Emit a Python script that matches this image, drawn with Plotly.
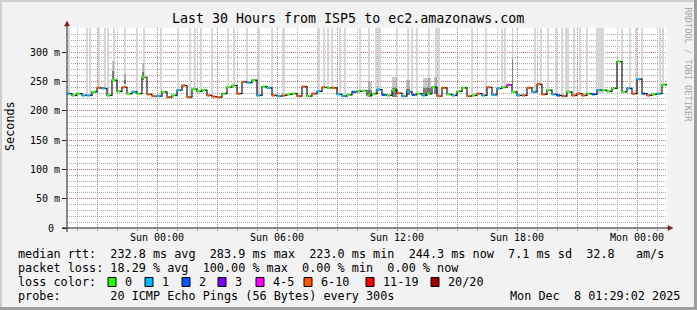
import plotly.graph_objects as go
from datetime import datetime, timedelta

# ---------------- data ----------------
title_text = "Last 30 Hours from ISP5 to ec2.amazonaws.com"
start = datetime(2025, 12, 6, 19, 30)
end = datetime(2025, 12, 8, 1, 30)
step_min = 15

# median rtt (ms) per 15-minute step
median_ms = [229, 226, 229, 226, 226, 232, 239, 238, 226, 252,
             233, 240, 229, 232, 229, 257, 228, 225, 225, 232,
             223, 226, 235, 243, 223, 237, 233, 235, 226, 224,
             223, 229, 240, 243, 229, 249, 248, 252, 226, 241,
             239, 226, 225, 226, 228, 229, 225, 241, 225, 229,
             233, 240, 239, 239, 228, 225, 227, 232, 233, 234,
             226, 229, 236, 227, 226, 235, 230, 225, 232, 227,
             229, 226, 229, 240, 225, 239, 228, 226, 233, 239,
             225, 226, 229, 226, 240, 227, 238, 240, 244, 232,
             226, 226, 239, 232, 245, 228, 235, 228, 226, 225,
             232, 226, 229, 226, 229, 228, 235, 235, 233, 238,
             283.9, 232, 238, 229, 254, 229, 226, 228, 229, 244.3]

# loss class index per step (index into loss_labels)
loss_class = [1, 0, 0, 1, 1, 0, 5, 1, 0, 0, 0, 5, 0, 1, 0, 0, 5, 5, 1, 0,
              5, 0, 1, 5, 5, 0, 0, 0, 5, 5, 5, 0, 0, 0, 5, 5, 1, 0, 1, 0,
              1, 5, 1, 5, 0, 0, 5, 5, 0, 5, 1, 5, 0, 5, 1, 1, 0, 2, 0, 0,
              0, 0, 1, 2, 0, 0, 5, 1, 1, 2, 0, 1, 0, 0, 5, 5, 0, 1, 0, 0,
              5, 0, 5, 1, 5, 1, 1, 0, 4, 0, 1, 5, 5, 1, 5, 5, 0, 1, 2, 5,
              0, 5, 5, 5, 0, 2, 1, 0, 0, 0, 0, 0, 1, 5, 1, 2, 5, 0, 1, 0]

loss_labels = ["0", "1", "2", "3", "4-5", "6-10", "11-19", "20/20"]
loss_colors = ["#26ff00", "#00b8ff", "#0059ff", "#7e00ff",
               "#ff00ff", "#ff5500", "#ff0000", "#a10000"]

# light grey full-height bars (minutes after start, duration in minutes)
gap_start_min = [3, 57, 66, 93, 111, 120, 138, 171, 207, 228, 279, 330, 366, 381,
                 399, 432, 480, 498, 537, 573, 612, 645, 753, 768, 780, 792, 816,
                 831, 876, 903, 924, 933, 987, 1020, 1032, 1047, 1083, 1104, 1113,
                 1212, 1254, 1302, 1311, 1401, 1419, 1440, 1464, 1482, 1494, 1500,
                 1518, 1536, 1557, 1587, 1662, 1686, 1704, 1722, 1776, 1785]
gap_len_min = [5, 5, 5, 5, 5, 5, 5, 5, 5, 5, 5, 5, 5, 5,
               5, 5, 5, 5, 5, 5, 5, 10, 5, 5, 5, 5, 5,
               5, 5, 5, 5, 10, 5, 5, 5, 5, 5, 5, 5,
               5, 5, 5, 5, 5, 5, 5, 5, 5, 5, 5,
               5, 5, 5, 25, 5, 5, 5, 5, 5, 5]

# smoke (ping spread) ranges
smoke_start_min = [136, 171, 226, 903, 975, 1017, 1068, 1101, 1335]
smoke_len_min = [6, 5, 6, 12, 15, 12, 24, 8, 3]
smoke_low_ms = [252, 246, 253, 223, 224, 226, 226, 228, 244]
smoke_high_ms = [285, 262, 281, 250, 257, 252, 256, 258, 341]

y_max_s = 0.341
y_tick_vals = [0, 0.05, 0.10, 0.15, 0.20, 0.25, 0.30]
y_tick_text = ["0\u00a0", "50 m", "100 m", "150 m", "200 m", "250 m", "300 m"]
x_label_names = {datetime(2025, 12, 7, 0): "Sun 00:00", datetime(2025, 12, 7, 6): "Sun 06:00",
                 datetime(2025, 12, 7, 12): "Sun 12:00", datetime(2025, 12, 7, 18): "Sun 18:00",
                 datetime(2025, 12, 8, 0): "Mon 00:00"}

legend_lines = [
    "median rtt:  232.8 ms avg  283.9 ms max  223.0 ms min  244.3 ms now  7.1 ms sd  32.8   am/s",
    "packet loss: 18.29 % avg  100.00 % max  0.00 % min  0.00 % now",
    "loss color:",
    "probe:       20 ICMP Echo Pings (56 Bytes) every 300s",
]
date_stamp = "Mon Dec  8 01:29:02 2025"

# ---------------- layout geometry (pixels) ----------------
W, H = 697, 310
L, R, T, B = 67, 30, 28, 82
PW, PH = W - L - R, H - T - B
MONO = "DejaVu Sans Mono"


def px(x):
    return (x - L) / PW


def py(y):
    return (H - B - y) / PH


fig = go.Figure()

# gaps (light grey bars)
times = [start + timedelta(minutes=step_min * i) for i in range(len(median_ms) + 1)]
gx, gb, gy, gw = [], [], [], []
for s, ln in zip(gap_start_min, gap_len_min):
    idx = min(s // step_min, len(median_ms) - 1)
    base = median_ms[idx] / 1000.0
    gx.append(start + timedelta(minutes=s + ln / 2))
    gb.append(base)
    gy.append(y_max_s - base)
    gw.append(ln * 60000)
fig.add_trace(go.Bar(x=gx, y=gy, base=gb, width=gw, marker=dict(color="#d6d6d6", line=dict(width=0)),
                     hoverinfo="skip"))

# smoke
sx, sb, sy, sw, cy = [], [], [], [], []
for s, ln, lo, hi in zip(smoke_start_min, smoke_len_min, smoke_low_ms, smoke_high_ms):
    sx.append(start + timedelta(minutes=s + ln / 2))
    sb.append(lo / 1000.0)
    sy.append((hi - lo) / 1000.0)
    cy.append((hi - lo) * 0.45 / 1000.0)
    sw.append(ln * 60000)
fig.add_trace(go.Bar(x=sx, y=sy, base=sb, width=sw, marker=dict(color="rgba(80,80,80,0.3)", line=dict(width=0)),
                     hoverinfo="skip"))
fig.add_trace(go.Bar(x=sx, y=cy, base=sb, width=sw, marker=dict(color="rgba(40,40,40,0.45)", line=dict(width=0)),
                     hoverinfo="skip"))

# median connector line
med_s = [v / 1000.0 for v in median_ms]
fig.add_trace(go.Scatter(x=times, y=med_s + [med_s[-1]], mode="lines",
                         line=dict(color="#1a1a1a", width=1.2, shape="hv"), hoverinfo="skip"))
# coloured median segments by loss (first part of each step)
seg = timedelta(minutes=step_min * 0.6)
for c, col in enumerate(loss_colors):
    xs, ys = [], []
    for i, (v, lc) in enumerate(zip(med_s, loss_class)):
        if lc == c:
            xs += [times[i], times[i] + seg, None]
            ys += [v, v, None]
    if xs:
        fig.add_trace(go.Scatter(x=xs, y=ys, mode="lines", line=dict(color=col, width=2.4),
                                 hoverinfo="skip"))

major_grid = "rgba(222,79,79,0.6)"
minor_grid = "rgba(143,143,143,0.75)"

x_major = []
t = datetime(2025, 12, 6, 21)
while t <= end:
    x_major.append(t)
    t += timedelta(hours=3)
x_minor = []
t = datetime(2025, 12, 6, 20)
while t <= end:
    x_minor.append(t)
    t += timedelta(hours=1)
x_text = [x_label_names.get(v, "") for v in x_major]
y_minor = [i / 100.0 for i in range(0, 35)]

fig.update_layout(
    width=W, height=H,
    margin=dict(l=L, r=R, t=T, b=B, pad=0),
    paper_bgcolor="#f2f2f2", plot_bgcolor="#ffffff",
    showlegend=False, barmode="overlay", bargap=0,
    xaxis=dict(range=[start, end], type="date", tickmode="array", tickvals=x_major, ticktext=x_text,
               showgrid=True, gridcolor=major_grid, griddash="1px,1px", gridwidth=1,
               ticks="outside", ticklen=2, tickcolor=major_grid, ticklabelstandoff=-2,
               tickfont=dict(family=MONO, size=10, color="#000000"),
               minor=dict(tickmode="array", tickvals=x_minor, showgrid=True, gridcolor=minor_grid,
                          griddash="1px,1px", ticks="outside", ticklen=2, tickcolor=minor_grid),
               showline=False, zeroline=False, fixedrange=True),
    yaxis=dict(range=[0, y_max_s], tickmode="array", tickvals=y_tick_vals, ticktext=y_tick_text,
               showgrid=True, gridcolor=major_grid, griddash="1px,1px", gridwidth=1,
               ticks="outside", ticklen=4, tickcolor="#1f1f1f",
               tickfont=dict(family=MONO, size=10, color="#000000"),
               minor=dict(tickmode="array", tickvals=y_minor, showgrid=True, gridcolor=minor_grid,
                          griddash="1px,1px"),
               showline=False, zeroline=False, fixedrange=True),
)

shapes = []
# frame shading
shapes.append(dict(type="rect", xref="paper", yref="paper", x0=px(0), x1=px(W), y0=py(2), y1=py(0),
                   fillcolor="#cfcfcf", line=dict(width=0), layer="above"))
shapes.append(dict(type="rect", xref="paper", yref="paper", x0=px(0), x1=px(2), y0=py(H), y1=py(0),
                   fillcolor="#cfcfcf", line=dict(width=0), layer="above"))
shapes.append(dict(type="rect", xref="paper", yref="paper", x0=px(0), x1=px(W), y0=py(H), y1=py(H - 3),
                   fillcolor="#9e9e9e", line=dict(width=0), layer="above"))
shapes.append(dict(type="rect", xref="paper", yref="paper", x0=px(W - 3), x1=px(W), y0=py(H), y1=py(0),
                   fillcolor="#9e9e9e", line=dict(width=0), layer="above"))
# axes
shapes.append(dict(type="line", xref="paper", yref="paper", x0=px(62), x1=px(670), y0=py(228), y1=py(228),
                   line=dict(color="#1f1f1f", width=1), layer="above"))
shapes.append(dict(type="line", xref="paper", yref="paper", x0=px(67), x1=px(67), y0=py(232), y1=py(24),
                   line=dict(color="#1f1f1f", width=1), layer="above"))
# arrows
shapes.append(dict(type="path", xref="paper", yref="paper",
                   path=f"M {px(673)},{py(228)} L {px(668)},{py(225.5)} L {px(668)},{py(230.5)} Z",
                   fillcolor="#801f1f", line=dict(color="#801f1f", width=0.5), layer="above"))
shapes.append(dict(type="path", xref="paper", yref="paper",
                   path=f"M {px(67)},{py(21)} L {px(64.5)},{py(26)} L {px(69.5)},{py(26)} Z",
                   fillcolor="#801f1f", line=dict(color="#801f1f", width=0.5), layer="above"))

annotations = []
annotations.append(dict(text=title_text, xref="paper", yref="paper", x=px(348), y=py(18.5),
                        xanchor="center", yanchor="middle", showarrow=False,
                        font=dict(family=MONO, size=13.3, color="#000000")))
annotations.append(dict(text="Seconds", xref="paper", yref="paper", x=px(10), y=py(126),
                        xanchor="center", yanchor="middle", textangle=-90, showarrow=False,
                        font=dict(family=MONO, size=11.8, color="#000000")))
annotations.append(dict(text="RRDTOOL / TOBI OETIKER", xref="paper", yref="paper", x=px(688), y=py(5),
                        xanchor="center", yanchor="top", textangle=90, showarrow=False,
                        font=dict(family=MONO, size=8.6, color="#a8a8a8")))

legend_y = [254.3, 268.3, 282.3, 296.2]
for txt, yy in zip(legend_lines, legend_y):
    annotations.append(dict(text=txt.replace(" ", "\u00a0"), xref="paper", yref="paper", x=px(16), y=py(yy),
                            xanchor="left", yanchor="middle", showarrow=False,
                            font=dict(family=MONO, size=11.8, color="#000000")))
annotations.append(dict(text=date_stamp.replace(" ", "\u00a0"), xref="paper", yref="paper", x=px(682),
                        y=py(legend_y[3]), xanchor="right", yanchor="middle", showarrow=False,
                        font=dict(family=MONO, size=11.8, color="#000000")))

legend_label_x = [123, 160, 197, 233, 271, 319, 381, 446]
for lab, col, lx in zip(loss_labels, loss_colors, legend_label_x):
    shapes.append(dict(type="rect", xref="paper", yref="paper", x0=px(lx - 15), x1=px(lx - 7),
                       y0=py(286.5), y1=py(277.5), fillcolor=col, line=dict(color="#000000", width=1),
                       layer="above"))
    annotations.append(dict(text=lab, xref="paper", yref="paper", x=px(lx), y=py(legend_y[2]),
                            xanchor="left", yanchor="middle", showarrow=False,
                            font=dict(family=MONO, size=11.8, color="#000000")))

fig.update_layout(shapes=shapes, annotations=annotations)
fig.write_html("out.html")
